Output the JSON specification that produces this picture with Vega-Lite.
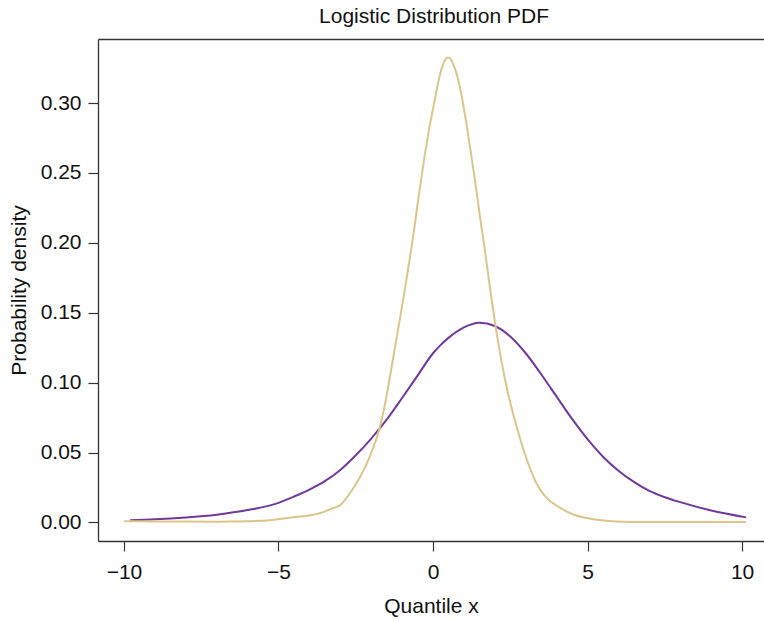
{
  "$schema": "https://vega.github.io/schema/vega-lite/v6.json",
  "width": 666,
  "height": 502,
  "autosize": {"type": "none"},
  "padding": {"left": 98, "top": 39, "right": 0, "bottom": 79},
  "background": "white",
  "title": {
    "text": "Logistic Distribution PDF",
    "font": "Liberation Sans",
    "fontSize": 21,
    "fontWeight": "normal",
    "color": "#111111",
    "offset": 12,
    "dx": 3
  },
  "datasets": {
    "wide": [
      {"x": -9.8, "density": 0.0016},
      {"x": -9.0, "density": 0.0022},
      {"x": -8.0, "density": 0.0035},
      {"x": -7.0, "density": 0.0055},
      {"x": -6.0, "density": 0.0088},
      {"x": -5.0, "density": 0.0140},
      {"x": -4.5, "density": 0.0185},
      {"x": -4.0, "density": 0.0235},
      {"x": -3.5, "density": 0.0295},
      {"x": -3.0, "density": 0.0375},
      {"x": -2.5, "density": 0.0480},
      {"x": -2.0, "density": 0.0600},
      {"x": -1.5, "density": 0.0735},
      {"x": -1.0, "density": 0.0890},
      {"x": -0.5, "density": 0.1050},
      {"x": 0.0, "density": 0.1210},
      {"x": 0.25, "density": 0.1270},
      {"x": 0.5, "density": 0.1320},
      {"x": 1.0, "density": 0.1395},
      {"x": 1.5, "density": 0.1428},
      {"x": 2.0, "density": 0.1405},
      {"x": 2.5, "density": 0.1330},
      {"x": 3.0, "density": 0.1210},
      {"x": 3.5, "density": 0.1060},
      {"x": 4.0, "density": 0.0900},
      {"x": 4.5, "density": 0.0740},
      {"x": 5.0, "density": 0.0595},
      {"x": 5.5, "density": 0.0470},
      {"x": 6.0, "density": 0.0370},
      {"x": 6.5, "density": 0.0290},
      {"x": 7.0, "density": 0.0225},
      {"x": 7.5, "density": 0.0180},
      {"x": 8.0, "density": 0.0145},
      {"x": 9.0, "density": 0.0085},
      {"x": 10.13, "density": 0.0036}
    ],
    "narrow": [
      {"x": -10.0, "density": 0.0008},
      {"x": -9.0, "density": 0.0007},
      {"x": -8.0, "density": 0.0006},
      {"x": -7.0, "density": 0.0005},
      {"x": -6.0, "density": 0.0008},
      {"x": -5.2, "density": 0.0018},
      {"x": -4.6, "density": 0.0035},
      {"x": -4.0, "density": 0.0050},
      {"x": -3.6, "density": 0.0070},
      {"x": -3.32, "density": 0.0095},
      {"x": -3.0, "density": 0.0125},
      {"x": -2.67, "density": 0.0214},
      {"x": -2.35, "density": 0.0330},
      {"x": -2.03, "density": 0.0480},
      {"x": -1.71, "density": 0.0690},
      {"x": -1.55, "density": 0.0850},
      {"x": -1.38, "density": 0.1060},
      {"x": -1.17, "density": 0.1330},
      {"x": -0.9, "density": 0.1680},
      {"x": -0.68, "density": 0.1990},
      {"x": -0.47, "density": 0.2320},
      {"x": -0.25, "density": 0.2650},
      {"x": -0.12, "density": 0.2820},
      {"x": 0.02, "density": 0.2980},
      {"x": 0.2, "density": 0.3180},
      {"x": 0.35, "density": 0.3290},
      {"x": 0.5, "density": 0.3325},
      {"x": 0.65, "density": 0.3280},
      {"x": 0.8, "density": 0.3180},
      {"x": 0.9, "density": 0.3080},
      {"x": 1.0, "density": 0.2960},
      {"x": 1.1, "density": 0.2830},
      {"x": 1.2, "density": 0.2680},
      {"x": 1.35, "density": 0.2460},
      {"x": 1.5, "density": 0.2220},
      {"x": 1.67, "density": 0.1960},
      {"x": 1.83, "density": 0.1700},
      {"x": 2.07, "density": 0.1340},
      {"x": 2.39, "density": 0.0960},
      {"x": 2.6, "density": 0.0770},
      {"x": 2.83, "density": 0.0590},
      {"x": 3.1, "density": 0.0410},
      {"x": 3.37, "density": 0.0270},
      {"x": 3.7, "density": 0.0170},
      {"x": 4.0, "density": 0.0120},
      {"x": 4.5, "density": 0.0060},
      {"x": 5.1, "density": 0.0026},
      {"x": 5.6, "density": 0.0012},
      {"x": 6.2, "density": 0.0004},
      {"x": 7.0, "density": 0.0003},
      {"x": 8.0, "density": 0.0003},
      {"x": 9.0, "density": 0.0003},
      {"x": 10.13, "density": 0.0003}
    ]
  },
  "config": {
    "view": {"stroke": null},
    "axis": {
      "grid": false,
      "labelFont": "Liberation Sans",
      "labelFontSize": 21,
      "labelColor": "#111111",
      "titleFont": "Liberation Sans",
      "titleFontSize": 21,
      "titleFontWeight": "normal",
      "titleColor": "#111111",
      "domainColor": "#333333",
      "domainWidth": 1.3,
      "tickColor": "#333333",
      "tickWidth": 1.2,
      "tickSize": 10
    }
  },
  "resolve": {"axis": {"x": "independent"}},
  "layer": [
    {
      "data": {"name": "wide"},
      "mark": {"type": "line", "color": "#70399A", "strokeWidth": 2, "interpolate": "monotone", "clip": true},
      "encoding": {
        "x": {
          "field": "x",
          "type": "quantitative",
          "scale": {"domain": [-10.84, 10.71], "nice": false, "zero": false},
          "axis": {
            "orient": "bottom",
            "title": "Quantile x",
            "values": [-10, -5, 0, 5, 10],
            "labelExpr": "replace(datum.label, '-', '−')",
            "labelPadding": 10,
            "titlePadding": 13
          }
        },
        "y": {
          "field": "density",
          "type": "quantitative",
          "scale": {"domain": [-0.0133, 0.3458], "nice": false, "zero": false},
          "axis": {
            "title": "Probability density",
            "values": [0, 0.05, 0.1, 0.15, 0.2, 0.25, 0.3],
            "format": ".2f",
            "labelPadding": 7,
            "titlePadding": 11
          }
        }
      }
    },
    {
      "data": {"name": "narrow"},
      "mark": {"type": "line", "color": "#DCC48A", "strokeWidth": 2, "interpolate": "monotone", "clip": true},
      "encoding": {
        "x": {
          "field": "x",
          "type": "quantitative",
          "axis": {
            "orient": "top",
            "title": null,
            "labels": false,
            "ticks": false,
            "domain": true
          }
        },
        "y": {"field": "density", "type": "quantitative"}
      }
    }
  ]
}
